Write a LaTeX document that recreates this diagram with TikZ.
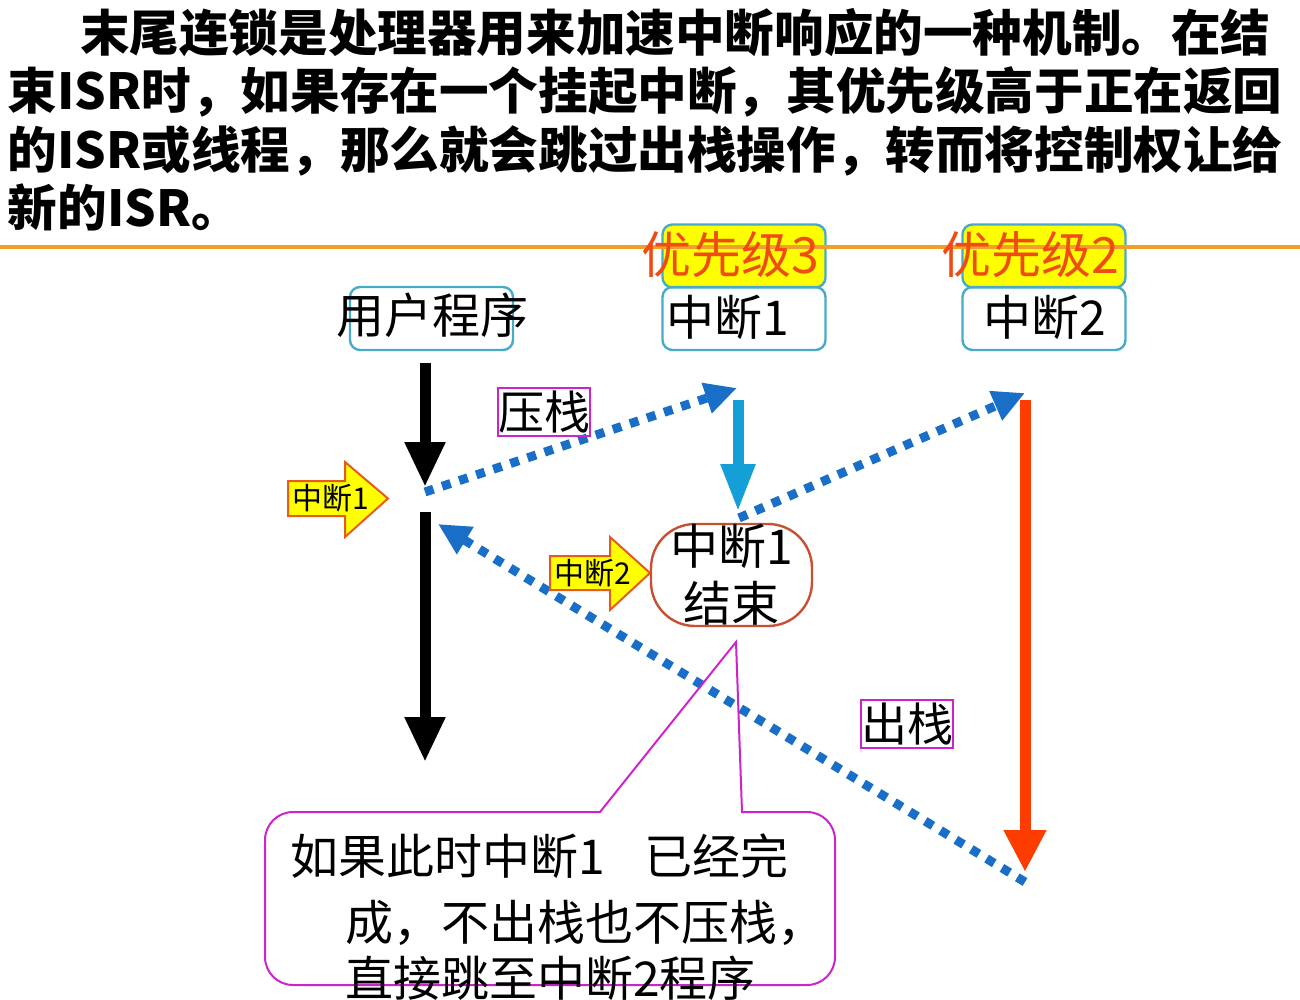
\documentclass[tikz,border=0pt]{standalone}
\usepackage{fontspec}
\newfontfamily\cjk{Noto Sans CJK SC}
\usepackage{tikz}
\usetikzlibrary{arrows.meta}
\usetikzlibrary{positioning}

\definecolor{rulecol}{RGB}{240,160,40}
\definecolor{boxcyan}{RGB}{70,170,200}
\definecolor{hiyellow}{RGB}{255,255,0}
\definecolor{priored}{RGB}{240,75,20}
\definecolor{dotblue}{RGB}{25,110,200}
\definecolor{downcyan}{RGB}{20,160,215}
\definecolor{downred}{RGB}{255,60,0}
\definecolor{tagmag}{RGB}{205,35,205}
\definecolor{tagedge}{RGB}{230,90,30}
\definecolor{endbrown}{RGB}{200,80,50}

\begin{document}
\begin{tikzpicture}[x=0.5pt,y=-0.5pt,inner sep=0pt,outer sep=0pt]

	\tikzstyle{every node}=[font=\cjk]

	\tikzset{headline/.style={anchor=base west,font=\cjk\bfseries\fontsize{24.8pt}{29pt}\selectfont}}
	\tikzset{word/.style={font=\cjk\fontsize{24pt}{28.5pt}\selectfont}}
	\tikzset{priotext/.style={text=priored,font=\cjk\fontsize{25pt}{29pt}\selectfont}}
	\tikzset{stacktag/.style={draw=tagmag,line width=1pt,minimum width=46pt,minimum height=24pt,
		font=\cjk\fontsize{23pt}{26pt}\selectfont}}
	\tikzset{calltext/.style={anchor=base west,font=\cjk\fontsize{24pt}{27pt}\selectfont}}
	\tikzset{tagtext/.style={font=\cjk\fontsize{15pt}{17pt}\selectfont}}

	\tikzset{progbox/.style={draw=boxcyan,line width=1.2pt,rounded corners=5pt,
		minimum width=81.5pt,minimum height=31.5pt}}
	\tikzset{priobox/.style={progbox,fill=hiyellow}}
	\tikzset{endbox/.style={draw=endbrown,line width=1.2pt,rounded corners=22pt,align=center,
		minimum width=80.5pt,minimum height=51pt,font=\cjk\fontsize{24pt}{28.5pt}\selectfont}}
	\tikzset{tagarrow/.style={draw=tagedge,fill=hiyellow,line width=1pt,line join=miter}}
	\tikzset{callout/.style={draw=tagmag,line width=1pt}}

	\tikzset{mainarrow/.style={line width=5.5pt,-{Triangle[width=19pt,length=22.5pt]}}}
	\tikzset{dotarrow/.style={draw=dotblue,line width=4.5pt,dash pattern=on 4.5pt off 4.5pt,
		-{Triangle[width=15pt,length=16pt]}}}

	\useasboundingbox (0,0) rectangle (1300,1000);

	% Heading text
	\node (intro1) [headline] at (80,52) {末尾连锁是处理器用来加速中断响应的一种机制。在结};
	\node (intro2) [headline] at (8,110) {束ISR时，如果存在一个挂起中断，其优先级高于正在返回};
	\node (intro3) [headline] at (8,169) {的ISR或线程，那么就会跳过出栈操作，转而将控制权让给};
	\node (intro4) [headline] at (8,227) {新的ISR。};

	% Program and interrupt boxes
	\node (userbox) [progbox] at (431.5,318.5) {};
	\node (prio3box) [priobox] at (744,256) {};
	\node (irq1box) [progbox] at (744,318.5) {};
	\node (prio2box) [priobox] at (1044,256) {};
	\node (irq2box) [progbox] at (1044,318.5) {};

	\draw [rulecol,line width=1.6pt] (0,247) -- (1300,247);

	\node (user) [word] at (432,315) {用户程序};
	\node (prio3) [priotext] at (730,255) {优先级3};
	\node (irq1) [word] at (728,317) {中断1};
	\node (prio2) [priotext] at (1030,255) {优先级2};
	\node (irq2) [word] at (1045,317) {中断2};

	% Solid arrows
	\coordinate (main1top) at (425,363);
	\coordinate (main1tip) at (425,487);
	\coordinate (main2top) at (425,512);
	\coordinate (main2tip) at (425,762);
	\coordinate (irq1top) at (738,400);
	\coordinate (irq1tip) at (738,512);
	\coordinate (irq2top) at (1025,400);
	\coordinate (irq2tip) at (1025,872);

	\draw [mainarrow] (main1top) -- (main1tip);
	\draw [mainarrow] (main2top) -- (main2tip);
	\draw [mainarrow,draw=downcyan,-{Triangle[width=16pt,length=24pt]}] (irq1top) -- (irq1tip);
	\draw [mainarrow,draw=downred,-{Triangle[width=20pt,length=21pt]}] (irq2top) -- (irq2tip);

	% Dotted arrows
	\coordinate (pushfrom) at (425,492);
	\coordinate (pushto) at (737,388);
	\coordinate (chainfrom) at (739,518);
	\coordinate (chainto) at (1025,393);
	\coordinate (popfrom) at (1025,882);
	\coordinate (popto) at (438,524);

	\draw [dotarrow] (pushfrom) -- (pushto);
	\draw [dotarrow] (chainfrom) -- (chainto);
	\draw [dotarrow] (popfrom) -- (popto);

	\node (push) [stacktag] at (544,412) {压栈};
	\node (pop) [stacktag] at (907,724) {出栈};

	% Incoming interrupt tags
	\draw [tagarrow] (288,481) -- (345,481) -- (345,462) -- (388,498.5) -- (345,537) -- (345,516) -- (288,516) -- cycle;
	\node (tag1) [tagtext] at (331,498) {中断1};
	\draw [tagarrow] (550,556) -- (610,556) -- (610,537) -- (650,573) -- (610,610) -- (610,590) -- (550,590) -- cycle;
	\node (tag2) [tagtext] at (593,573) {中断2};

	\node (irq1end) [endbox] at (731.5,575) {中断1\\结束};

	% Callout
	\draw [callout] (600,812) [sharp corners] -- (736,642) -- (742,812) [rounded corners=14pt]
		-- (835,812) -- (835,985) -- (265,985) -- (265,812) [sharp corners] -- cycle;
	\node (note1) [calltext] at (290,874) {如果此时中断1\hspace{20pt}已经完};
	\node (note2) [calltext] at (345,940) {成，不出栈也不压栈，};
	\node (note3) [calltext] at (345,996) {直接跳至中断2程序};
\end{tikzpicture}
\end{document}
